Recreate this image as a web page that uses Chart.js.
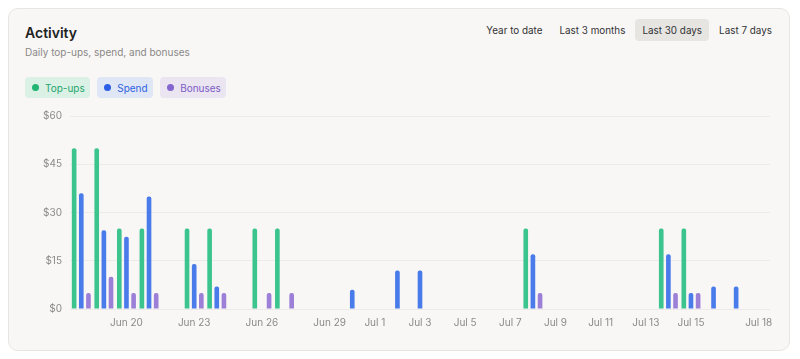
<!DOCTYPE html>
<html>
<head>
<meta charset="utf-8">
<script src="https://cdn.jsdelivr.net/npm/chart.js@4.4.1/dist/chart.umd.min.js"></script>
<style>
  html, body { margin: 0; padding: 0; background: #fff; }
  body { width: 800px; height: 359px; position: relative; font-family: Inter, "Noto Sans", sans-serif; }
  .card { position: absolute; left: 8px; top: 8px; width: 782px; height: 343px; background: #f8f7f6;
          border: 1px solid #e7e5e2; border-radius: 10px; box-sizing: border-box; }
  .title { position: absolute; left: 16px; top: 15px; font-size: 14px; font-weight: 600; color: #222; }
  .sub { position: absolute; left: 16px; top: 37px; font-size: 10px; color: #8a8886; }
  .chips { position: absolute; left: 16px; top: 68px; display: flex; gap: 7px; }
  .chip { height: 21px; border-radius: 4px; font-size: 10px; display: flex; align-items: center;
          padding: 0 5.5px 0 7px; box-sizing: border-box; }
  .chip i { width: 7px; height: 7px; border-radius: 50%; display: inline-block; margin-right: 6px; }
  .tabs { position: absolute; right: 10px; top: 10px; display: flex; }
  .tab { font-size: 9.9px; color: #333; height: 22px; line-height: 22px; padding: 0 7px; margin-left: 3px; border-radius: 4px; }
  .tab.on { background: #e6e5e2; }
  #wrap { position: absolute; left: 11px; top: 93px; width: 758px; height: 229px; }
</style>
</head>
<body>
<div class="card">
  <div class="title">Activity</div>
  <div class="sub">Daily top-ups, spend, and bonuses</div>
  <div class="chips">
    <div class="chip" style="background:#dbf1e5;color:#1fa56c"><i style="background:#22b573"></i>Top-ups</div>
    <div class="chip" style="background:#dfe6f5;color:#2f62e0"><i style="background:#2c5fe6"></i>Spend</div>
    <div class="chip" style="background:#ebe5f2;color:#7b5cc4"><i style="background:#8565cf"></i>Bonuses</div>
  </div>
  <div class="tabs">
    <div class="tab">Year to date</div>
    <div class="tab">Last 3 months</div>
    <div class="tab on">Last 30 days</div>
    <div class="tab">Last 7 days</div>
  </div>
  <div id="wrap"><canvas id="activityChart"></canvas></div>
</div>
<script>
var days = ['Jun 18','Jun 19','Jun 20','Jun 21','Jun 22','Jun 23','Jun 24','Jun 25','Jun 26','Jun 27',
            'Jun 28','Jun 29','Jun 30','Jul 1','Jul 2','Jul 3','Jul 4','Jul 5','Jul 6','Jul 7',
            'Jul 8','Jul 9','Jul 10','Jul 11','Jul 12','Jul 13','Jul 14','Jul 15','Jul 16','Jul 17','Jul 18'];
var shownTicks = ['Jun 20','Jun 23','Jun 26','Jun 29','Jul 1','Jul 3','Jul 5','Jul 7','Jul 9','Jul 11','Jul 13','Jul 15','Jul 18'];
var topups  = [50,50,25,25,0,25,25,0,25,25, 0,0,0,0,0,0,0,0,0,0, 25,0,0,0,0,0,25,25,0,0,0];
var spend   = [36,24.5,22.5,35,0,14,7,0,0,0, 0,0,6,0,12,12,0,0,0,0, 17,0,0,0,0,0,17,5,7,7,0];
var bonuses = [5,10,5,5,0,5,5,0,5,5, 0,0,0,0,0,0,0,0,0,0, 5,0,0,0,0,0,5,5,0,0,0];
var yTicks = [0,15,30,45,60];

function bar(label, data, color) {
    return {
        label: label,
        data: data,
        backgroundColor: color,
        borderRadius: { topLeft: 2, topRight: 2 },
        borderSkipped: 'bottom',
        categoryPercentage: 0.95,
        barPercentage: 0.65
    };
}

new Chart(document.getElementById('activityChart'), {
    type: 'bar',
    data: {
        labels: days,
        datasets: [
            bar('Top-ups', topups, '#3cc48f'),
            bar('Spend', spend, '#4a7bea'),
            bar('Bonuses', bonuses, '#9c80d8')
        ]
    },
    options: {
        responsive: true,
        maintainAspectRatio: false,
        animation: false,
        layout: { padding: { top: 4, right: 8, left: 0, bottom: 0 } },
        plugins: { legend: { display: false }, tooltip: { enabled: false } },
        scales: {
            x: {
                grid: { display: false },
                border: { display: false },
                ticks: {
                    autoSkip: false, maxRotation: 0, padding: 0,
                    color: '#8c8a88', font: { family: 'Inter', size: 10 },
                    callback: function(v, i) { return shownTicks.indexOf(days[i]) >= 0 ? days[i] : ''; }
                },
                afterFit: function(s) { s.height = 22; }
            },
            y: {
                min: 0, max: 60,
                afterBuildTicks: function(s) { s.ticks = yTicks.map(function(v) { return { value: v }; }); },
                grid: { color: '#ecebe8', drawTicks: false },
                border: { display: false },
                ticks: {
                    padding: 8, color: '#8c8a88', font: { family: 'Inter', size: 10 },
                    callback: function(v) { return '$' + v; }
                },
                afterFit: function(s) { s.width = 50; }
            }
        }
    }
});
</script>
</body>
</html>
